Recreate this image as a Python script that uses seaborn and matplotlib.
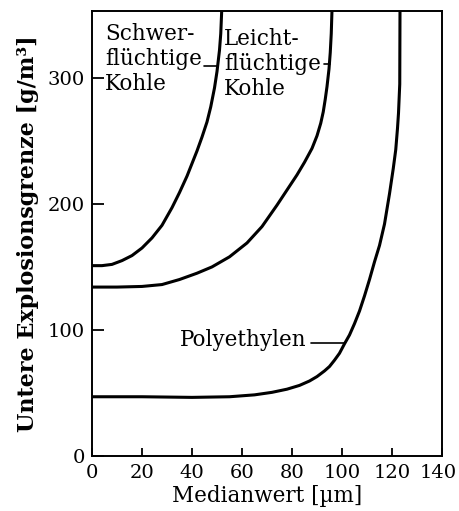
import matplotlib
matplotlib.use("Agg")
import matplotlib.pyplot as plt
from matplotlib.transforms import ScaledTranslation
import seaborn as sns
import pandas as pd

# Data
schwer_x = [0, 4, 8, 12, 16, 20, 24, 28, 32, 35, 38, 40, 42, 44, 46, 47.5, 49, 50, 51, 51.5, 51.9]
schwer_y = [151, 151, 152, 155, 159, 165, 173, 183, 197, 209, 222, 232, 242, 253, 265, 277, 292, 305, 322, 335, 354]

leicht_x = [0, 10, 20, 28, 35, 42, 48, 55, 62, 68, 74, 78, 82, 85, 88, 90, 91.5, 92.5, 93.3, 94, 94.8, 95.3, 95.7, 96]
leicht_y = [134, 134, 134.5, 136, 140, 145, 150, 158, 169, 182, 199, 211, 223, 233, 244, 254, 264, 273, 283, 293, 307, 320, 335, 354]

poly_x = [0, 20, 40, 55, 65, 72, 78, 83, 87, 90, 93, 95, 97, 99, 101, 103, 105, 107, 109, 111, 113, 115, 117, 119, 120.5, 121.5, 122.2, 122.6, 123.1, 123.2]
poly_y = [47, 47, 46.5, 47, 48.5, 50.5, 53, 56, 59.5, 63, 67.5, 71, 76, 81.5, 89, 96, 105, 115, 127, 140, 154, 167, 184, 208, 228, 243, 260, 272, 295, 354]

x_ticks = [0, 20, 40, 60, 80, 100, 120, 140]
y_ticks = [0, 100, 200, 300]

sns.set_theme(style="ticks")
plt.rcParams['font.family'] = ['DejaVu Serif', 'DejaVu Sans']

fig = plt.figure(figsize=(4.59, 5.11), dpi=100)
ax = fig.add_axes([92/459, 55/511, 350/459, 445/511])

for xs, ys in [(schwer_x, schwer_y), (leicht_x, leicht_y), (poly_x, poly_y)]:
    df = pd.DataFrame({"x": xs, "y": ys})
    sns.lineplot(data=df, x="x", y="y", ax=ax, color="black", lw=2.2,
                 sort=False, estimator=None)

ax.set_xlim(0, 140)
ax.set_ylim(0, 353)
ax.set_xticks(x_ticks)
ax.set_yticks(y_ticks)
ax.tick_params(axis="both", direction="in", labelsize=14, colors="black",
               width=1.3, pad=5)
ax.tick_params(axis="y", length=8.5)
ax.tick_params(axis="x", length=6, pad=6)
for s in ax.spines.values():
    s.set_color("black")
    s.set_linewidth(1.4)

fig.canvas.draw()
last = ax.get_xticklabels()[-1]
last.set_transform(last.get_transform() + ScaledTranslation(-4/100, 0, fig.dpi_scale_trans))

ax.set_xlabel("Medianwert [µm]", fontsize=15.5, color="black", labelpad=2)
ax.set_ylabel("Untere Explosionsgrenze [g/m³]", fontsize=16, fontweight="bold",
              color="black", labelpad=6)

fs = 15.5
ax.text(5.2, 315, "Schwer-\nflüchtige\nKohle", fontsize=fs, color="black",
        va="center", ha="left", linespacing=1.2)
ax.plot([44.6, 50.3], [309, 309], color="black", lw=1.2)
ax.text(52.8, 311, "Leicht-\nflüchtige\nKohle", fontsize=fs, color="black",
        va="center", ha="left", linespacing=1.2)
ax.plot([92.6, 95.2], [311, 311], color="black", lw=1.2)
ax.text(35.2, 92, "Polyethylen", fontsize=fs, color="black",
        va="center", ha="left")
ax.plot([87.6, 101.2], [89.7, 89.7], color="black", lw=1.2)

fig.savefig("out.png", dpi=100)
